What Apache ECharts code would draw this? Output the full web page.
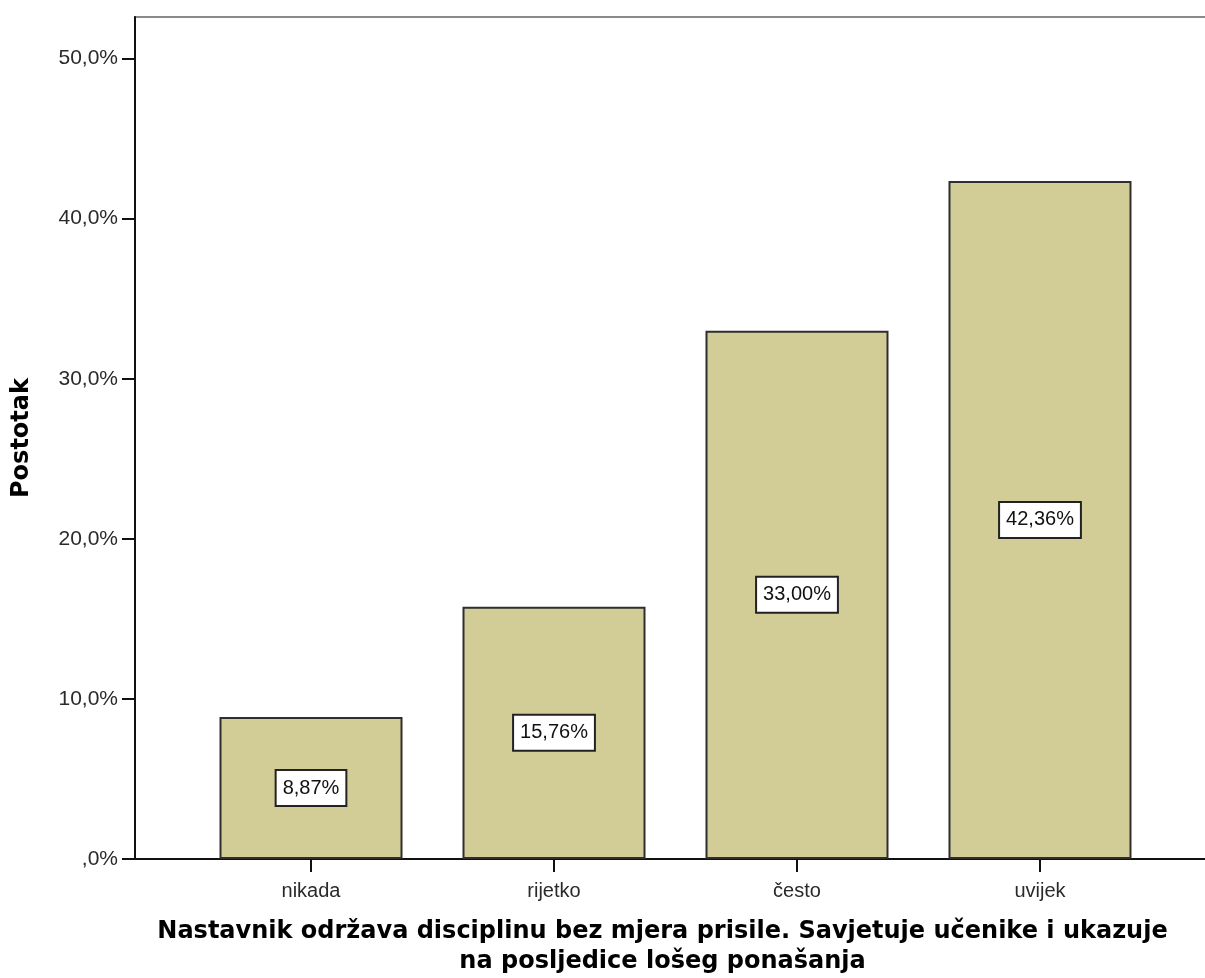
<!DOCTYPE html>
<html>
<head>
<meta charset="utf-8">
<script src="https://cdn.jsdelivr.net/npm/echarts@6/dist/echarts.min.js"></script>
<style>html,body{margin:0;padding:0;background:#fff}#c{width:1205px;height:978px}</style>
</head>
<body>
<div id="c"></div>
<script>
const categories = ['nikada', 'rijetko', 'često', 'uvijek'];
const percentValues = [8.87, 15.76, 33.00, 42.36];
const yTicks = [0, 10, 20, 30, 40, 50];
const yAxisTitle = 'Postotak';
const xAxisTitle = 'Nastavnik održava disciplinu bez mjera prisile. Savjetuje učenike i ukazuje\nna posljedice lošeg ponašanja';

const fmtPct = (v, d) => {
  const s = v.toFixed(d).replace('.', ',');
  return (s.startsWith('0,') ? s.slice(1) : s) + '%';
};

const chart = echarts.init(document.getElementById('c'), null, {renderer: 'canvas'});
chart.setOption({
  animation: false,
  backgroundColor: '#fff',
  grid: {
    left: 135, right: -11, top: 17, bottom: 119,
    show: true, borderColor: '#8a8a8a', borderWidth: 2, backgroundColor: 'transparent',
    outerBoundsMode: 'none'
  },
  xAxis: {
    type: 'value',
    min: -0.7243, max: 3.7243,
    splitLine: {show: false},
    axisLine: {show: true, onZero: false, lineStyle: {color: '#111', width: 2}},
    axisTick: {show: true, customValues: [0, 1, 2, 3], length: 13, lineStyle: {color: '#111', width: 2}},
    axisLabel: {
      customValues: [0, 1, 2, 3],
      formatter: v => categories[Math.round(v)],
      margin: 22, fontFamily: 'Liberation Sans, Arial, sans-serif', fontSize: 20, color: '#2a2a2a'
    },
    name: xAxisTitle,
    nameLocation: 'middle',
    nameGap: 58,
    nameTextStyle: {fontFamily: 'DejaVu Sans', fontWeight: 'bold', fontSize: 24, color: '#000', lineHeight: 30, align: 'center', padding: [0, 26, 0, 0]}
  },
  yAxis: {
    type: 'value',
    min: 0, max: 52.6,
    splitLine: {show: false},
    axisLine: {show: true, onZero: false, lineStyle: {color: '#111', width: 2}},
    axisTick: {show: true, customValues: yTicks, length: 13, lineStyle: {color: '#111', width: 2}},
    axisLabel: {
      customValues: yTicks,
      formatter: v => fmtPct(v, 1),
      margin: 17, fontFamily: 'Liberation Sans, Arial, sans-serif', fontSize: 21, color: '#2a2a2a'
    },
    name: yAxisTitle,
    nameLocation: 'middle',
    nameGap: 101,
    nameTextStyle: {fontFamily: 'DejaVu Sans', fontWeight: 'bold', fontSize: 24, color: '#000'}
  },
  series: [{
    type: 'bar',
    barWidth: 183,
    data: percentValues.map((v, i) => [i, v]),
    itemStyle: {color: '#d2cd96', borderColor: '#2e2e2e', borderWidth: 2},
    label: {
      show: true, position: 'inside',
      formatter: p => fmtPct(p.value[1], 2),
      fontFamily: 'Liberation Sans, Arial, sans-serif', fontSize: 20, color: '#111',
      backgroundColor: '#fff', borderColor: '#222', borderWidth: 2,
      padding: [8, 6, 6, 6], lineHeight: 20
    }
  }]
});
</script>
</body>
</html>
